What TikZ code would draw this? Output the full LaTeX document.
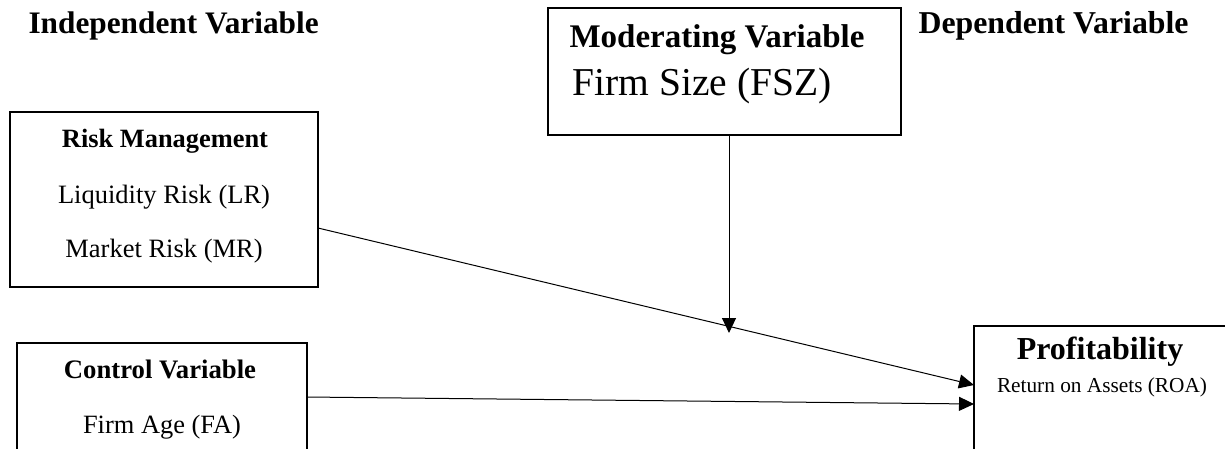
\documentclass[tikz,border=0pt]{standalone}
\usepackage{fontspec}
\setmainfont{Liberation Serif}
\usetikzlibrary{arrows.meta}
\tikzset{
  varbox/.style={draw, line width=2pt},
  link/.style={line width=1pt, -{Triangle[length=15pt,width=14pt]}},
}
\newcommand{\fs}[1]{\fontsize{#1}{#1}\selectfont}
\begin{document}
\begin{tikzpicture}[x=1pt,y=-1pt]
\useasboundingbox (0,0) rectangle (1225,448);

% boxes
\draw[varbox] (10,112) rectangle (318,287);
\draw[varbox] (548,8) rectangle (901,135);
\draw[varbox] (17,343) rectangle (307,470);
\draw[varbox] (974,326) rectangle (1240,470);

% headings
\node (indep) at (25,33) [anchor=base west]{\fs{31.3}\bfseries Independent Variable};
\node (dep) at (915,33) [anchor=base west]{\fs{31.8}\bfseries Dependent Variable};

% moderating variable
\node (modhead) at (566,47) [anchor=base west]{\fs{33}\bfseries Moderating Variable};
\node (fsz) at (569,95) [anchor=base west]{\fs{39.5}Firm Size (FSZ)};

% risk management
\node (riskhead) at (165,147) [anchor=base]{\fs{26.4}\bfseries Risk Management};
\node (lr) at (164,203) [anchor=base]{\fs{26.5}Liquidity Risk (LR)};
\node (mr) at (164,257) [anchor=base]{\fs{26.5}Market Risk (MR)};

% control variable
\node (ctrlhead) at (160,378) [anchor=base]{\fs{26.7}\bfseries Control Variable};
\node (fa) at (162,433) [anchor=base]{\fs{26.4}Firm Age (FA)};

% profitability
\node (profhead) at (1100,359) [anchor=base]{\fs{32}\bfseries Profitability};
\node (roa) at (1102,392) [anchor=base]{\fs{21.3}Return on Assets (ROA)};

% connectors
\coordinate (riskout) at (318,228);
\coordinate (ctrlout) at (307,397);
\coordinate (modout) at (729,135);
\coordinate (modin) at (729,333);
\coordinate (profin1) at (974,385);
\coordinate (profin2) at (974,404);
\draw[link] (riskout) -- (profin1);
\draw[link] (ctrlout) -- (profin2);
\draw[link] (modout) -- (modin);
\end{tikzpicture}
\end{document}
